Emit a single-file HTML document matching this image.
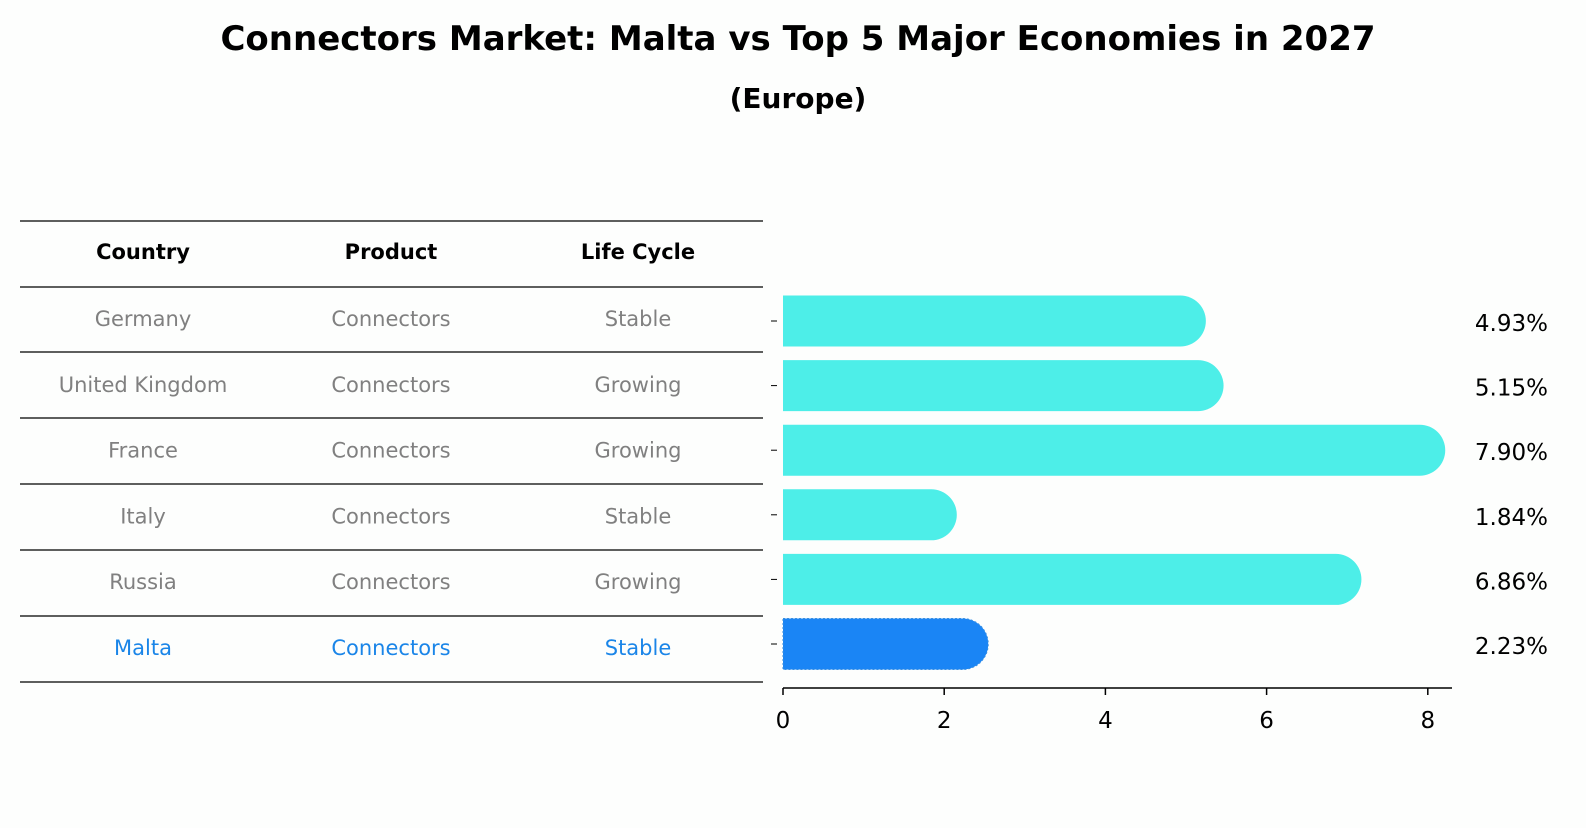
<!DOCTYPE html>
<html><head><meta charset="utf-8"><style>
body{margin:0;background:#fdfefd;width:1586px;height:823px;overflow:hidden;font-family:"Liberation Sans","DejaVu Sans",sans-serif}
</style></head><body>
<svg width="1586" height="823" xmlns="http://www.w3.org/2000/svg" font-family="DejaVu Sans, Liberation Sans, sans-serif">
<rect width="1586" height="823" fill="#fdfefd"/>
<text x="798" y="50" text-anchor="middle" font-size="34" font-weight="bold" fill="#000">Connectors Market: Malta vs Top 5 Major Economies in 2027</text>
<text x="798" y="108" text-anchor="middle" font-size="28" font-weight="bold" fill="#000">(Europe)</text>
<g id="table"></g>
<g id="bars"></g>
</svg>
<script>
const countries=["Germany","United Kingdom","France","Italy","Russia","Malta"];
const products=["Connectors","Connectors","Connectors","Connectors","Connectors","Connectors"];
const lifecycle=["Stable","Growing","Growing","Stable","Growing","Stable"];
const values=[4.93,5.15,7.90,1.84,6.86,2.23];
const ticks=[0,2,4,6,8];
const NS="http://www.w3.org/2000/svg";
function mk(tag,attrs,parent){const e=document.createElementNS(NS,tag);for(const k in attrs)e.setAttribute(k,attrs[k]);parent.appendChild(e);return e;}
const tbl=document.getElementById('table');
const lineYs=[221,287,352,418,484,550,616,682];
lineYs.forEach(y=>{const l=mk('line',{x1:20,x2:763,y1:y,y2:y,stroke:'#000','stroke-width':1.3},tbl);

});
const colX=[143,391,638];
["Country","Product","Life Cycle"].forEach((h,i)=>{const t=mk('text',{x:colX[i],y:259,'text-anchor':'middle','font-size':21,'font-weight':'bold',fill:'#000'},tbl);t.textContent=h;

});
const rowY=i=>320+i*65.8;
countries.forEach((c,i)=>{const col=c==="Malta"?"#1a85e8":"#808080";
[c,products[i],lifecycle[i]].forEach((v,j)=>{const t=mk('text',{x:colX[j],y:rowY(i)+6,'text-anchor':'middle','font-size':21,fill:col},tbl);t.textContent=v;

});});
const bars=document.getElementById('bars');
const x0=783,ppu=80.6;const xs=v=>x0+v*ppu;
const by=i=>321+i*64.6;const bh=51;
values.forEach((v,i)=>{const malta=countries[i]==="Malta";const w=xs(v)-x0;const r=bh/2;const yt=by(i)-r;
const p=mk('path',{d:`M${x0},${yt} H${x0+w} A${r},${r} 0 0 1 ${x0+w},${yt+bh} H${x0} Z`,fill:malta?'#1a85f5':'#4deee8'},bars);
if(malta){p.setAttribute('stroke','#3a8fe0');p.setAttribute('stroke-dasharray','2,2');}


const t=mk('text',{x:1548,y:by(i)+10,'text-anchor':'end','font-size':23,fill:'#000'},bars);t.textContent=v.toFixed(2)+'%';


const tk=mk('line',{x1:771,x2:777,y1:by(i),y2:by(i),stroke:'#000','stroke-width':1},bars);

});
const ax=mk('line',{x1:x0,x2:1452,y1:688,y2:688,stroke:'#000','stroke-width':1.5},bars);


ticks.forEach(tv=>{const l=mk('line',{x1:xs(tv),x2:xs(tv),y1:688,y2:695,stroke:'#000','stroke-width':1.5},bars);


const t=mk('text',{x:xs(tv),y:728,'text-anchor':'middle','font-size':23,fill:'#000'},bars);t.textContent=tv;

});
</script>
</body></html>
